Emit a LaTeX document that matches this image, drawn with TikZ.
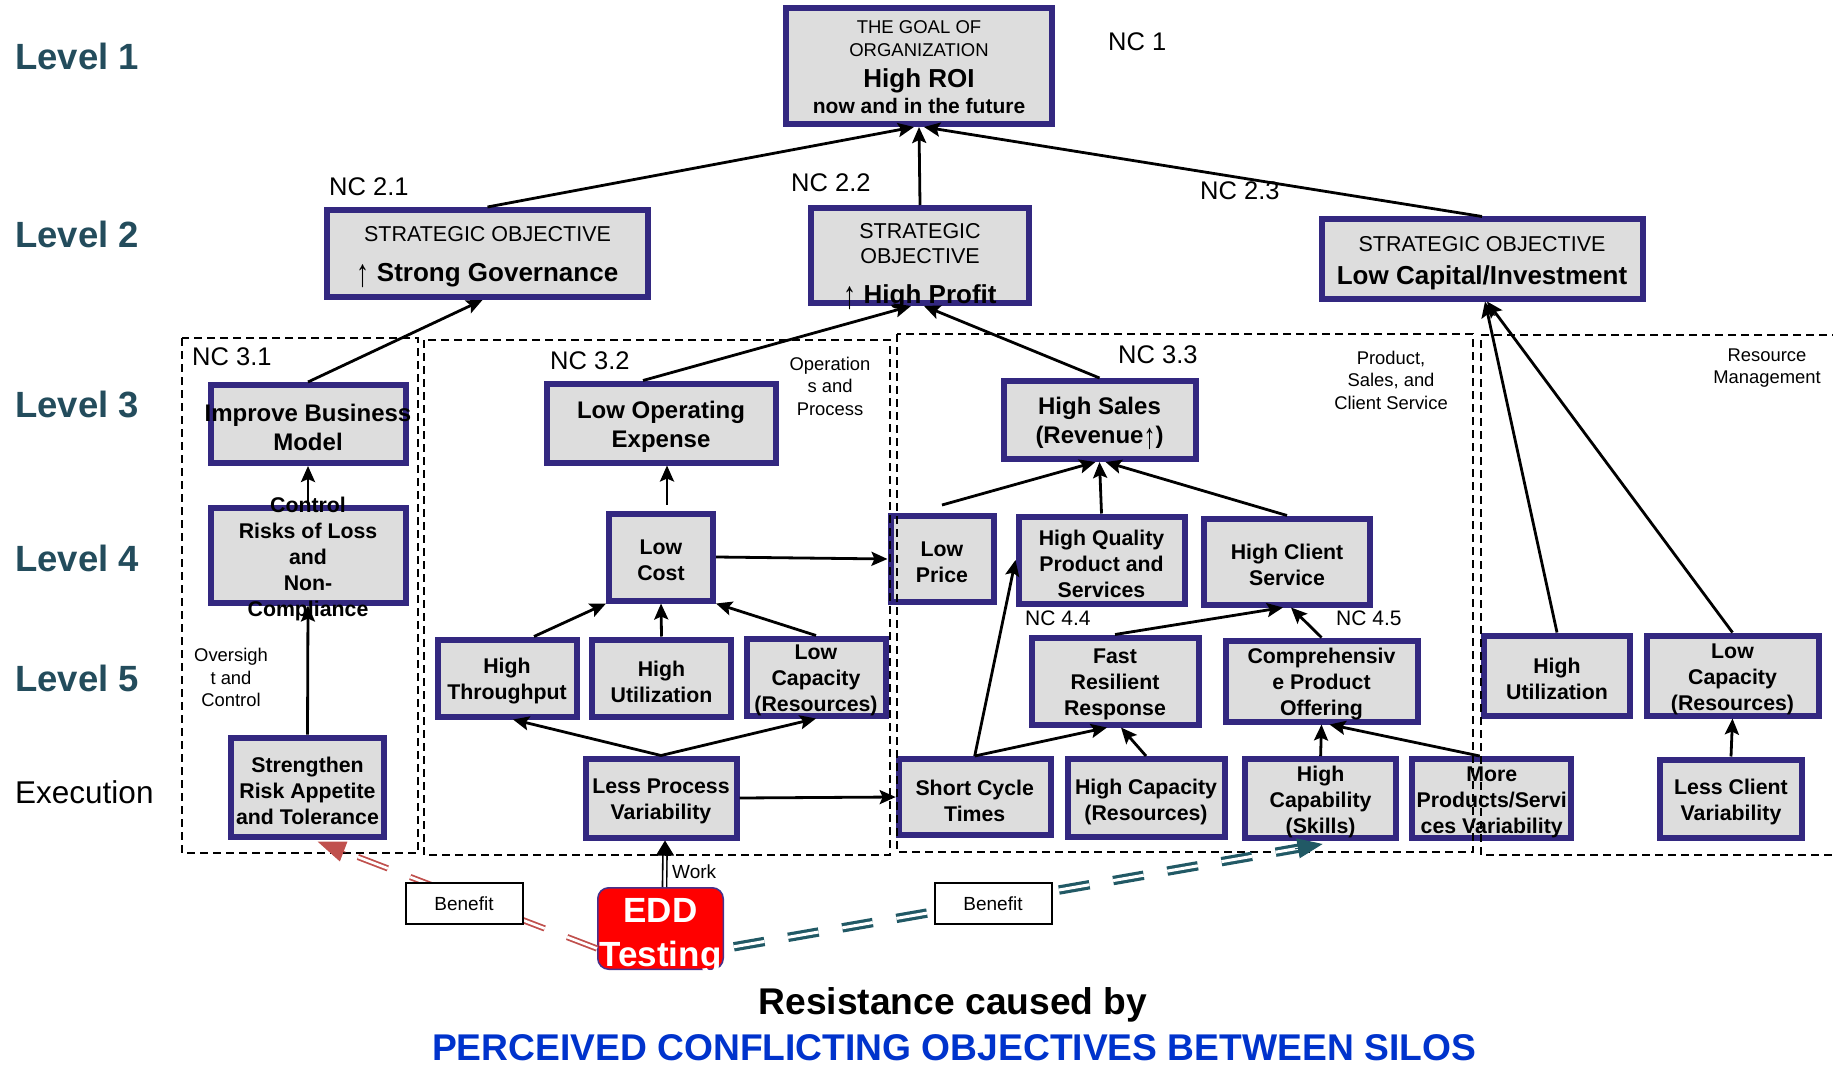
\documentclass[tikz,border=0pt]{standalone}
\usepackage{fontspec}
\setmainfont{Liberation Sans}
\usetikzlibrary{arrows.meta,calc}
\definecolor{boxc}{RGB}{51,40,128}
\definecolor{boxf}{RGB}{221,221,221}
\definecolor{lvlc}{RGB}{35,76,92}
\definecolor{redl}{RGB}{192,80,77}
\definecolor{teall}{RGB}{33,89,101}
\definecolor{titleblue}{RGB}{0,51,204}
\definecolor{eddred}{RGB}{255,0,0}
\definecolor{eddedge}{RGB}{70,50,140}
% tall thin "increase" arrow used inside the box texts
\newcommand\tallup{\raisebox{-0.2em}{\scalebox{1}[1.5]{\mdseries ↑}}}

\begin{document}
\begin{tikzpicture}[x=1pt,y=-1pt,
  box/.style={draw=boxc, fill=boxf, line width=6pt, inner sep=0pt, rectangle},
  region/.style={draw=black, line width=2pt, dash pattern=on 8pt off 5pt},
  arr/.style={line width=2.8pt, -{Stealth[length=16pt,width=14pt,inset=3pt]}},
  t21/.style={font=\fontsize{21.3}{26}\selectfont\bfseries, align=center, inner sep=0pt, yshift=-3.5pt},
  t24/.style={font=\fontsize{24}{29}\selectfont\bfseries, align=center, inner sep=0pt, yshift=-3.5pt},
  objreg/.style={font=\fontsize{21.5}{25}\selectfont, align=center, inner sep=0pt},
  objbold/.style={font=\fontsize{26}{30}\selectfont\bfseries, inner sep=0pt},
  level/.style={font=\fontsize{36.5}{40}\selectfont\bfseries, text=lvlc, anchor=west, inner sep=0pt},
  nc/.style={font=\fontsize{25.5}{30}\selectfont, anchor=west, inner sep=0pt},
  ncs/.style={font=\fontsize{21}{25}\selectfont, anchor=west, inner sep=0pt},
  note/.style={font=\fontsize{18.4}{22.5}\selectfont, align=center, inner sep=0pt},
  benefit/.style={draw=black, fill=white, line width=2pt, minimum width=117, minimum height=41,
    font=\fontsize{19}{22}\selectfont, inner sep=0pt},
  title/.style={font=\fontsize{37.2}{42}\selectfont\bfseries, inner sep=0pt}
]
\useasboundingbox (0,0) rectangle (1833,1067);

% ---------- boxes ----------
\node[box, minimum width=266, minimum height=116] (goal) at (919,66) {};
\node[box, minimum width=321, minimum height=87] (sg) at (487.5,253.5) {};
\node[box, minimum width=218, minimum height=95] (hp) at (920,255.5) {};
\node[box, minimum width=321, minimum height=79] (lc) at (1482,259) {};

\node[box, minimum width=195, minimum height=78] (ibm) at (308,424) {};
\node[box, minimum width=229, minimum height=79] (loe) at (661,423) {};
\node[box, minimum width=192, minimum height=78] (hs) at (1099.5,420) {};

\node[box, minimum width=195, minimum height=95] (crl) at (308,555) {};
\node[box, minimum width=104, minimum height=87] (lcost) at (661,557) {};
\node[box, minimum width=103, minimum height=86] (lprice) at (942,559) {};
\node[box, minimum width=166, minimum height=87] (hq) at (1101.5,560) {};
\node[box, minimum width=166, minimum height=86] (hcs) at (1287,561.5) {};

\node[box, minimum width=139, minimum height=77] (ht) at (507,678) {};
\node[box, minimum width=139, minimum height=77] (hu) at (661.5,678) {};
\node[box, minimum width=139, minimum height=77] (lcap) at (816,677) {};
\node[box, minimum width=167, minimum height=87] (frr) at (1115,681) {};
\node[box, minimum width=192, minimum height=81] (cpo) at (1321.5,681) {};
\node[box, minimum width=146, minimum height=80] (hu2) at (1557,675.5) {};
\node[box, minimum width=172, minimum height=80] (lcap2) at (1732.5,675.5) {};

\node[box, minimum width=153, minimum height=99] (sra) at (307.5,787) {};
\node[box, minimum width=151, minimum height=79] (lpv) at (661,798) {};
\node[box, minimum width=152, minimum height=76] (sct) at (974.7,797) {};
\node[box, minimum width=157, minimum height=78] (hcap) at (1146,798) {};
\node[box, minimum width=151, minimum height=79] (hcab) at (1320.6,798.5) {};
\node[box, minimum width=159, minimum height=79] (mps) at (1491.7,798.5) {};
\node[box, minimum width=142, minimum height=78] (lcv) at (1731,798.5) {};

\node[draw=eddedge, fill=eddred, line width=1.5pt, rounded corners=11pt,
  minimum width=125.5, minimum height=81.5, inner sep=0pt] (edd) at (660.5,928.5) {};

% ---------- dashed areas ----------
\draw[region] (182,338) rectangle (418,853);
\draw[region] (424,340) rectangle (890,855);
\draw[region] (897,334) rectangle (1473,852);
\draw[region] (1840,335) -- (1481,335) -- (1481,855) -- (1840,855);

% ---------- cause and effect arrows ----------
\draw[arr] (sg.north) -- ([xshift=-5pt]goal.south);
\draw[arr] (hp.north) -- (goal.south);
\draw[arr] (lc.north) -- ([xshift=5pt]goal.south);

\draw[arr] (ibm.north) -- ([xshift=-5pt]sg.south);
\draw[arr] ([xshift=-18pt]loe.north) -- ([xshift=-9pt]hp.south);
\draw[arr] (hs.north) -- ([xshift=4pt]hp.south);
\draw[arr] (hu2.north) -- ([xshift=3pt]lc.south);
\draw[arr] (lcap2.north) -- ([xshift=5pt]lc.south);

\draw[arr] (crl.north) -- (ibm.south);
\draw[arr] (sra.north) -- (crl.south);
\draw[arr] ([xshift=6pt,yshift=6pt]lcost.north) -- ([xshift=6pt]loe.south);
\draw[arr] ([xshift=27pt]ht.north) -- (lcost.south west);
\draw[arr] (hu.north) -- (lcost.south);
\draw[arr] (lcap.north) -- (lcost.south east);
\draw[arr] (lcost.east) -- (lprice.west);
\draw[arr] (lpv.north) -- ([xshift=6pt]ht.south);
\draw[arr] (lpv.north) -- (lcap.south);
\draw[arr] (lpv.east) -- (sct.west);

\draw[arr] ([yshift=8pt]lprice.north) -- ([xshift=-4pt]hs.south);
\draw[arr] (hq.north) -- (hs.south);
\draw[arr] (hcs.north) -- ([xshift=6pt]hs.south);
\draw[arr] (sct.north) -- (hq.west);
\draw[arr] (sct.north) -- ([xshift=-8pt]frr.south);
\draw[arr] (hcap.north) -- ([xshift=6pt]frr.south);
\draw[arr] (frr.north) -- ([xshift=-4pt]hcs.south);
\draw[arr] (cpo.north) -- ([xshift=4pt]hcs.south);
\draw[arr] (hcab.north) -- (cpo.south);
\draw[arr] ([xshift=-12pt]mps.north) -- ([xshift=8pt]cpo.south);
\draw[arr] (lcv.north) -- (lcap2.south);

% ---------- testing: work and benefits ----------
\draw[line width=1.6pt, double=white, double distance=2.5pt]
  ([xshift=4pt]edd.north) -- ([xshift=4pt,yshift=-12pt]lpv.south);
\draw[line width=1pt, -{Triangle[length=15pt,width=18pt]}]
  ([xshift=4pt,yshift=-14pt]lpv.south) -- ([xshift=4pt]lpv.south);

\coordinate (rtip) at ([xshift=10pt,yshift=-2pt]sra.south);
\coordinate (rstart) at ([yshift=-20pt]edd.west);
\draw[redl, line width=1.8pt, double=white, double distance=2.6pt,
  dash pattern=on 32pt off 24pt, shorten >=24pt] (rstart) -- (rtip);
\draw[redl, line width=1pt, -{Triangle[length=28pt,width=21pt]}]
  ($(rtip)!30pt!(rstart)$) -- (rtip);

\coordinate (ttip) at ([xshift=2pt,yshift=-3pt]hcab.south);
\coordinate (tstart) at ([yshift=-20pt]edd.east);
\draw[teall, line width=3.2pt, double=white, double distance=3pt,
  dash pattern=on 31pt off 24pt, dash phase=45pt, shorten >=22pt] (tstart) -- (ttip);
\draw[teall, line width=1pt, -{Triangle[length=25pt,width=20pt]}]
  ($(ttip)!28pt!(tstart)$) -- (ttip);

\node[benefit] (ben1) at (464,903.5) {Benefit};
\node[benefit] (ben2) at (993,903.5) {Benefit};
\node[font=\fontsize{19}{22}\selectfont, anchor=west, inner sep=0pt] (work) at (672,872) {Work};

% ---------- box texts ----------
\node[font=\fontsize{18.5}{23}\selectfont, align=center, inner sep=0pt] (goal-t1) at (919,39) {THE GOAL OF\\ORGANIZATION};
\node[objbold] (goal-t2) at (919,80.5) {High ROI};
\node[font=\fontsize{21}{25}\selectfont\bfseries, inner sep=0pt] (goal-t3) at (919,106) {now and in the future};

\node[objreg] (sg-t1) at (487.5,234) {STRATEGIC OBJECTIVE};
\node[objbold] (sg-t2) at (487.5,275.5) {\tallup\ Strong Governance};
\node[objreg] (hp-t1) at (920,244) {STRATEGIC\\OBJECTIVE};
\node[objbold] (hp-t2) at (920,297) {\tallup\ High Profit};
\node[objreg] (lc-t1) at (1482,244) {STRATEGIC OBJECTIVE};
\node[objbold] (lc-t2) at (1482,277.5) {Low Capital/Investment};

\node[t24] (ibm-t) at (ibm) {Improve Business\\Model};
\node[t24] (loe-t) at (loe) {Low Operating\\Expense};
\node[t24] (hs-t) at (hs) {High Sales\\(Revenue\tallup)};

\node[t21] (crl-t) at (crl) {Control\\Risks of Loss\\and\\Non-\\Compliance};
\node[t21] (lcost-t) at (lcost) {Low\\Cost};
\node[t21] (lprice-t) at (lprice) {Low\\Price};
\node[t21] (hq-t) at (hq) {High Quality\\Product and\\Services};
\node[t21] (hcs-t) at (hcs) {High Client\\Service};

\node[t21] (ht-t) at (ht) {High\\Throughput};
\node[t21] (hu-t) at (hu) {High\\Utilization};
\node[t21] (lcap-t) at (lcap) {Low\\Capacity\\(Resources)};
\node[t21] (frr-t) at (frr) {Fast\\Resilient\\Response};
\node[t21] (cpo-t) at (cpo) {Comprehensiv\\e Product\\Offering};
\node[t21] (hu2-t) at (hu2) {High\\Utilization};
\node[t21] (lcap2-t) at (lcap2) {Low\\Capacity\\(Resources)};

\node[t21] (sra-t) at (sra) {Strengthen\\Risk Appetite\\and Tolerance};
\node[t21] (lpv-t) at (lpv) {Less Process\\Variability};
\node[t21] (sct-t) at (sct) {Short Cycle\\Times};
\node[t21] (hcap-t) at (hcap) {High Capacity\\(Resources)};
\node[t21] (hcab-t) at (hcab) {High\\Capability\\(Skills)};
\node[t21] (mps-t) at (mps) {More\\Products/Servi\\ces Variability};
\node[t21] (lcv-t) at (lcv) {Less Client\\Variability};

\node[font=\fontsize{35}{44}\selectfont\bfseries, text=white, align=center, inner sep=0pt]
  (edd-t) at (660.5,936) {EDD\\Testing};

% ---------- level labels ----------
\node[level] (lv1) at (15,56.5) {Level 1};
\node[level] (lv2) at (15,234) {Level 2};
\node[level] (lv3) at (15,404) {Level 3};
\node[level] (lv4) at (15,558) {Level 4};
\node[level] (lv5) at (15,678) {Level 5};
\node[font=\fontsize{31.5}{36}\selectfont, anchor=west, inner sep=0pt] (lvx) at (15,792) {Execution};

% ---------- necessary condition tags ----------
\node[nc] (nc1) at (1108,42) {NC 1};
\node[nc] (nc21) at (329,187) {NC 2.1};
\node[nc] (nc22) at (791,183) {NC 2.2};
\node[nc] (nc23) at (1200,190.5) {NC 2.3};
\node[nc] (nc31) at (192,356.5) {NC 3.1};
\node[nc] (nc32) at (550,360.5) {NC 3.2};
\node[nc] (nc33) at (1118,355) {NC 3.3};
\node[ncs] (nc44) at (1025,618) {NC 4.4};
\node[ncs] (nc45) at (1336,618) {NC 4.5};

% ---------- area notes ----------
\node[note] (n-ops) at (830,386) {Operation\\s and\\Process};
\node[note] (n-psc) at (1391,380) {Product,\\Sales, and\\Client Service};
\node[note] (n-res) at (1767,368) {Resource\\Management};
\node[note] (n-ovs) at (231,677.5) {Oversigh\\t and\\Control};

% ---------- caption ----------
\node[title] (cap1) at (953,1005) {Resistance caused by};
\node[title, text=titleblue] (cap2) at (954,1047.5) {PERCEIVED CONFLICTING OBJECTIVES BETWEEN SILOS};
\end{tikzpicture}
\end{document}
